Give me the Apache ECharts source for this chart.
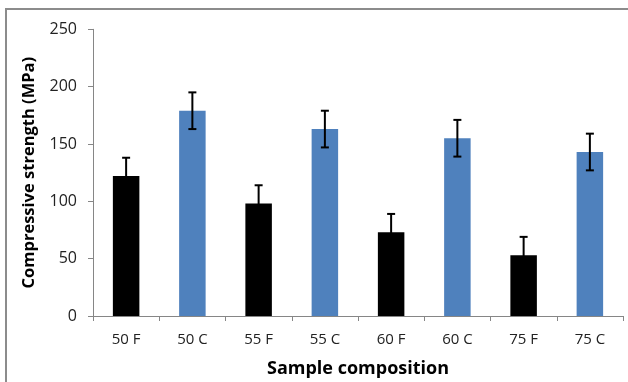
<!DOCTYPE html>
<html><head><meta charset="utf-8">
<script src="https://cdn.jsdelivr.net/npm/echarts@6/dist/echarts.min.js"></script>
<style>html,body{margin:0;padding:0;background:#fff}#c{width:628px;height:382px}</style>
</head><body><div id="c"></div>
<script>
const categories = ['50 F','50 C','55 F','55 C','60 F','60 C','75 F','75 C'];
const strength = [122, 179, 98, 163, 73, 155, 53, 143];
const errors = [16, 16, 16, 16, 16, 16, 16, 16];
const yTicks = [0, 50, 100, 150, 200, 250];

const chart = echarts.init(document.getElementById('c'), null, {renderer:'canvas'});
const font = 'Open Sans, Liberation Sans, sans-serif';
chart.setOption({
  animation:false,
  backgroundColor:'#fff',
  graphic:[{type:'rect', shape:{x:6, y:9, width:640, height:400}, style:{fill:'none', stroke:'#8c8c8c', lineWidth:2}, silent:true, z:-1}],
  grid:{left:93, right:5, top:29.3, bottom:66, containLabel:false, outerBoundsMode:'none'},
  xAxis:{type:'category', data:categories,
    axisLine:{lineStyle:{color:'#868686', width:1}},
    axisTick:{show:true, length:5, lineStyle:{color:'#868686'}},
    axisLabel:{color:'#222', fontSize:15, fontFamily:font, margin:16},
    name:'Sample composition', nameLocation:'middle', nameGap:44,
    nameTextStyle:{color:'#000', fontSize:18, fontWeight:'bold', fontFamily:font}
  },
  yAxis:{type:'value', min:yTicks[0], max:yTicks[yTicks.length-1], interval:50,
    axisLine:{show:true, lineStyle:{color:'#868686', width:1}},
    axisTick:{show:true, length:5, lineStyle:{color:'#868686'}},
    splitLine:{show:false},
    axisLabel:{color:'#222', fontSize:16, fontFamily:font, margin:16},
    name:'Compressive strength (MPa)', nameLocation:'middle', nameGap:55,
    nameTextStyle:{color:'#000', fontSize:16.5, fontWeight:'bold', fontFamily:font}
  },
  series:[
    {type:'bar', barWidth:'40%',
     data: strength.map((v,i)=>({value:v, itemStyle:{color: categories[i].endsWith('F') ? '#000000' : '#4f81bd'}}))},
    {type:'custom', z:5,
     data: strength.map((v,i)=>[i, v-errors[i], v+errors[i]]),
     renderItem:(params, api)=>{
       const lo = api.coord([api.value(0), api.value(1)]);
       const hi = api.coord([api.value(0), api.value(2)]);
       const x = lo[0], hw = 4;
       const st = {stroke:'#000', lineWidth:2};
       return {type:'group', children:[
         {type:'line', shape:{x1:x, y1:lo[1], x2:x, y2:hi[1]}, style:st},
         {type:'line', shape:{x1:x-hw, y1:hi[1], x2:x+hw, y2:hi[1]}, style:st},
         {type:'line', shape:{x1:x-hw, y1:lo[1], x2:x+hw, y2:lo[1]}, style:st}
       ]};
     }}
  ]
});
</script></body></html>
